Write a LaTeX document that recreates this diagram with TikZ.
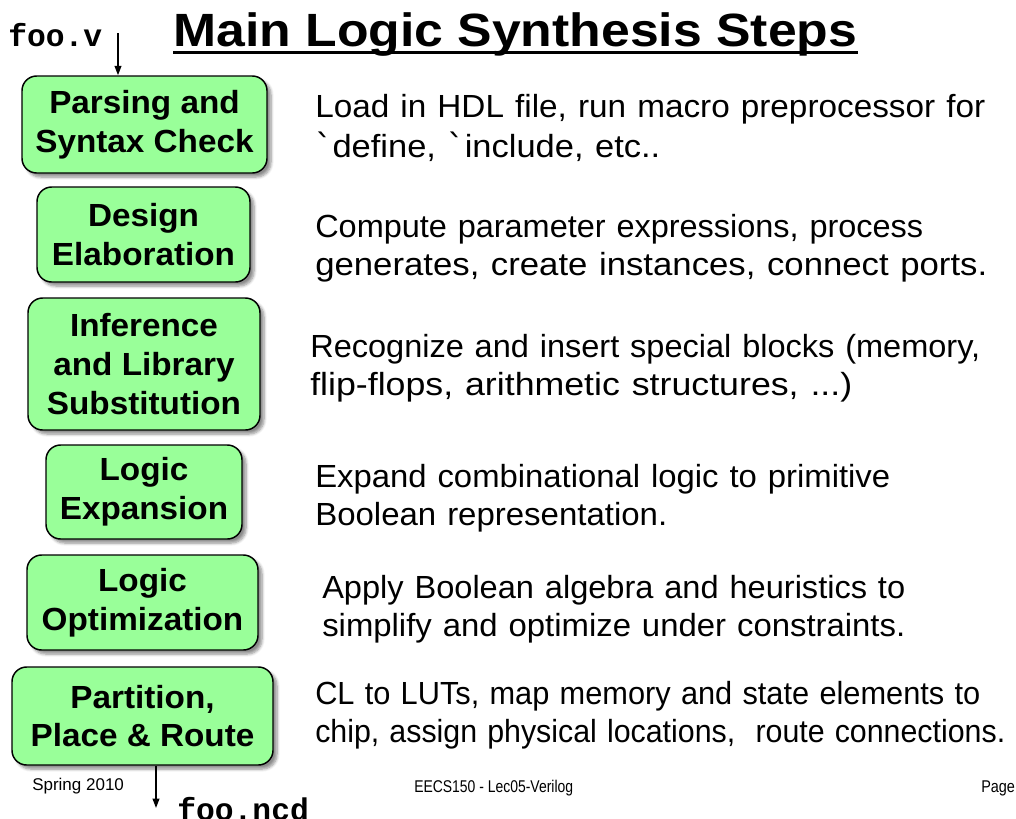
\documentclass[tikz,border=0pt]{standalone}
\usepackage{fontspec}
\setmainfont{Liberation Sans}
\newfontfamily\monofont{Liberation Mono}
\newfontfamily\boxfont{Liberation Sans}[FakeStretch=1.04]
\newfontfamily\djv{DejaVu Sans}
\usetikzlibrary{shadows.blur,arrows.meta,calc}
\definecolor{boxgreen}{RGB}{153,255,153}
\newlength\pxu
\setlength\pxu{0.75pt}
\newcommand\fitl[2]{\resizebox{#1\pxu}{\height}{#2}}
\newcommand\grv{{\djv ˋ}}
\begin{document}
\begin{tikzpicture}[x=0.75pt,y=-0.75pt,
  stepbox/.style={draw=black, line width=1.1pt, fill=boxgreen, rounded corners=11pt,
    align=center, font=\boxfont\bfseries\fontsize{24}{29}\selectfont, inner sep=0pt,
    blur shadow={shadow xshift=3pt, shadow yshift=-3pt, shadow blur steps=6, shadow opacity=45}},
  desc/.style={anchor=base west, inner sep=0pt, align=left, text width=560pt,
    font=\fontsize{24}{28.5}\selectfont},
  arr/.style={-{Triangle[length=7pt,width=5pt]}, line width=1.3pt},
  fname/.style={font=\monofont\bfseries\fontsize{23.5}{28}\selectfont, inner sep=0pt, anchor=base west},
  foot/.style={font=\fontsize{12.75}{15}\selectfont, inner sep=0pt, anchor=base west}]
\useasboundingbox (0,0) rectangle (1016,818);
\clip (0,0) rectangle (1016,818);

% title
\node[anchor=base west, inner sep=0pt, font=\bfseries\fontsize{35}{40}\selectfont] (title) at (173,46)
  {\fitl{684}{Main Logic Synthesis Steps}};
\draw[line width=2.2pt] ([yshift=-5pt]title.base west) -- ([yshift=-5pt]title.base east);

% step boxes
\node[stepbox, minimum width=183.75pt, minimum height=72.75pt] (b1) at (144.5,124.5) {Parsing and\\Syntax Check};
\node[stepbox, minimum width=159.75pt, minimum height=71.25pt] (b2) at (143.5,234.5) {Design\\Elaboration};
\node[stepbox, minimum width=174pt, minimum height=99pt] (b3) at (144,364) {Inference\\and Library\\Substitution};
\node[stepbox, minimum width=147pt, minimum height=70.5pt] (b4) at (144,492) {Logic\\Expansion};
\node[stepbox, minimum width=173.25pt, minimum height=71.25pt] (b5) at (142.5,602.5) {Logic\\Optimization};
\node[stepbox, minimum width=195.75pt, minimum height=73.5pt] (b6) at (142.5,716) {Partition,\\Place \& Route};

% descriptions
\node[desc, font=\fontsize{24}{30}\selectfont] (d1) at (315,117)
  {\fitl{670}{Load in HDL file, run macro preprocessor for}\\\fitl{345}{\grv define, \grv include, etc..}};
\node[desc] (d2) at (315,237)
  {\fitl{608}{Compute parameter expressions, process}\\\fitl{672}{generates, create instances, connect ports.}};
\node[desc] (d3) at (310,357)
  {\fitl{670}{Recognize and insert special blocks (memory,}\\\fitl{542}{flip-flops, arithmetic structures, ...)}};
\node[desc] (d4) at (315,487)
  {\fitl{575}{Expand combinational logic to primitive}\\\fitl{352}{Boolean representation.}};
\node[desc] (d5) at (322,598)
  {\fitl{583}{Apply Boolean algebra and heuristics to}\\\fitl{583}{simplify and optimize under constraints.}};
\node[desc] (d6) at (315,704)
  {\fitl{665}{CL to LUTs, map memory and state elements to}\\\fitl{690}{chip, assign physical locations,\ \ route connections.}};

% input / output
\node[fname] (fin) at (8,46) {foo.v};
\coordinate (inTop) at (118,33);
\draw[arr] (inTop) -- (inTop |- b1.north);
\coordinate (outEnd) at (156,808);
\draw[arr] (outEnd |- b6.south) -- (outEnd);
\node[fname] (fout) at (177,820) {foo.ncd};

% footer
\node[foot] (f1) at (32,790) {Spring 2010};
\node[foot] (f2) at (414,792) {\scalebox{0.82}[1]{EECS150 - Lec05-Verilog}};
\node[foot] (f3) at (981,792) {\scalebox{0.85}[1]{Page 1}};
\end{tikzpicture}
\end{document}
